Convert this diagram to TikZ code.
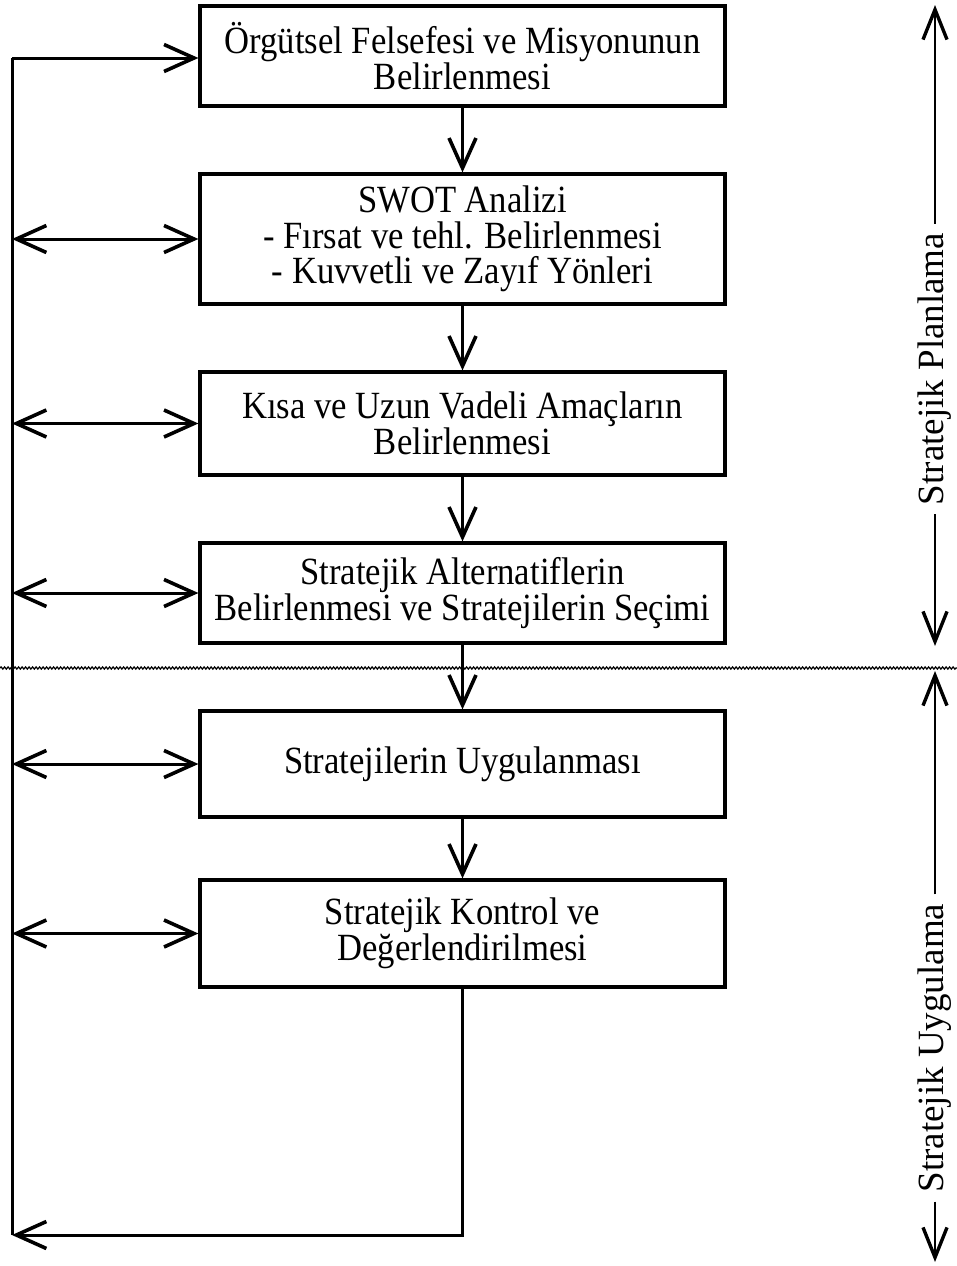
\documentclass[tikz,border=0pt]{standalone}
\usepackage{fontspec}
\setmainfont[FakeStretch=0.9]{Liberation Serif}
\newfontfamily\labelfont{Liberation Serif}
\usetikzlibrary{arrows.meta,decorations.pathmorphing}

\begin{document}
\begin{tikzpicture}[x=1pt,y=-1pt,
  box/.style={draw,line width=3.2pt,minimum width=525pt,inner sep=0pt,
    align=center,font=\fontsize{38.5}{35.5}\selectfont},
  link/.style={line width=3pt,-{Straight Barb[length=30pt,width=27pt,line width=3.6pt]}},
  twoway/.style={line width=3pt,{Straight Barb[length=30pt,width=27pt,line width=3.6pt]}-{Straight Barb[length=30pt,width=27pt,line width=3.6pt]}},
  side/.style={line width=2.6pt,-{Straight Barb[length=30pt,width=24pt,line width=3.4pt]}},
  phase/.style={rotate=90,inner xsep=9pt,font=\labelfont\fontsize{37}{39}\selectfont}]
\useasboundingbox (0,0) rectangle (957,1266);

% process boxes
\node[box,minimum height=100pt] (b1) at (462.5,56)
  {Örgütsel Felsefesi ve Misyonunun\\Belirlenmesi};
\node[box,minimum height=130pt] (b2) at (462.5,239)
  {SWOT Analizi\\- Fırsat ve tehl. Belirlenmesi\\- Kuvvetli ve Zayıf Yönleri};
\node[box,minimum height=103pt] (b3) at (462.5,423.5)
  {Kısa ve Uzun Vadeli Amaçların\\Belirlenmesi};
\node[box,minimum height=100pt] (b4) at (462.5,593)
  {Stratejik Alternatiflerin\\Belirlenmesi ve Stratejilerin Seçimi};
\node[box,minimum height=106pt] (b5) at (462.5,764)
  {Stratejilerin Uygulanması};
\node[box,minimum height=107pt] (b6) at (462.5,933.5)
  {Stratejik Kontrol ve\\Değerlendirilmesi};

% flow between boxes
\draw[link] (b1.south) -- (b2.north);
\draw[link] (b2.south) -- (b3.north);
\draw[link] (b3.south) -- (b4.north);
\draw[link] (b4.south) -- (b5.north);
\draw[link] (b5.south) -- (b6.north);

% feedback spine on the left
\coordinate (top) at (12,58);
\coordinate (bot) at (12,1235);
\draw[line width=3pt] (top) -- (bot);
\draw[link] (top) -- (b1.west |- top);
\foreach \b in {b2,b3,b4,b5,b6}
  \draw[twoway] (12,0 |- \b.west) -- (\b.west);
\draw[link] (b6.south) |- (bot);

% phase divider
\draw[line width=1.2pt,decorate,decoration={snake,amplitude=1.1pt,segment length=3.5pt}]
  (0,668) -- (957,668);

% phase labels
\node[phase] (plan) at (935,369) {Stratejik Planlama};
\coordinate (planTop) at (935,5);
\coordinate (planBot) at (935,646);
\draw[side] (plan.east) -- (planTop);
\draw[side] (plan.west) -- (planBot);

\node[phase] (impl) at (935,1048) {Stratejik Uygulama};
\coordinate (implTop) at (935,671);
\coordinate (implBot) at (935,1262);
\draw[side] (impl.east) -- (implTop);
\draw[side] (impl.west) -- (implBot);
\end{tikzpicture}
\end{document}
